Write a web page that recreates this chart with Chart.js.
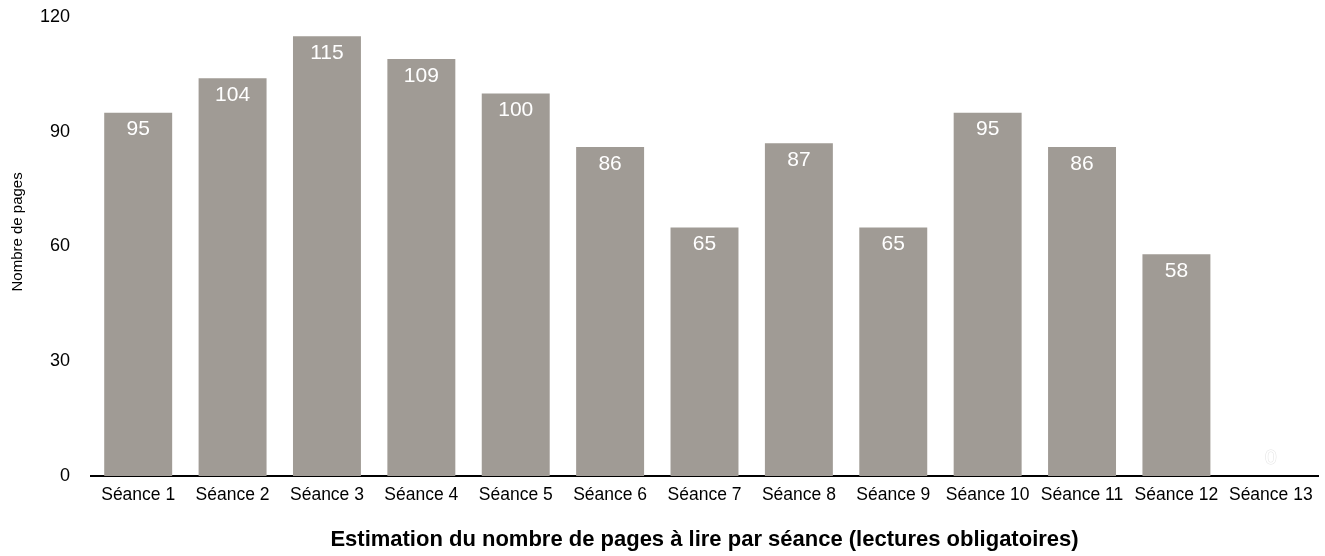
<!DOCTYPE html>
<html>
<head>
<meta charset="utf-8">
<script src="https://cdn.jsdelivr.net/npm/chart.js@4"></script>
<style>
  html, body { margin: 0; padding: 0; background: #fff; }
  #wrap { width: 1325px; height: 556px; }
</style>
</head>
<body>
<div id="wrap"><canvas id="chart"></canvas></div>
<script>
const sessions = ['Séance 1', 'Séance 2', 'Séance 3', 'Séance 4', 'Séance 5', 'Séance 6', 'Séance 7',
    'Séance 8', 'Séance 9', 'Séance 10', 'Séance 11', 'Séance 12', 'Séance 13'];
const pages = [95, 104, 115, 109, 100, 86, 65, 87, 65, 95, 86, 58, 0];
const yTicks = [0, 30, 60, 90, 120];

const FONT = 'Liberation Sans, Arial, Helvetica, sans-serif';
const BAR = '#a09b95';

// white value labels inside the top of each bar
const valueLabels = {
    id: 'valueLabels',
    afterDatasetsDraw(chart) {
        const { ctx } = chart;
        const meta = chart.getDatasetMeta(0);
        ctx.save();
        ctx.font = '21px ' + FONT;
        ctx.textAlign = 'center';
        ctx.textBaseline = 'middle';
        meta.data.forEach((bar, i) => {
            const v = pages[i];
            if (v === 0) {
                ctx.lineWidth = 1;
                ctx.strokeStyle = '#e2e2e2';
                ctx.strokeText(String(v), bar.x, bar.y - 18);
                ctx.fillStyle = '#ffffff';
                ctx.fillText(String(v), bar.x, bar.y - 18);
            } else {
                ctx.fillStyle = '#ffffff';
                ctx.fillText(String(v), bar.x, bar.y + 17);
            }
        });
        ctx.restore();
    },
};

new Chart(document.getElementById('chart'), {
    type: 'bar',
    data: {
        labels: sessions,
        datasets: [{
            data: pages,
            backgroundColor: BAR,
            borderWidth: 0,
            categoryPercentage: 0.8,
            barPercentage: 0.9,
        }],
    },
    options: {
        responsive: true,
        maintainAspectRatio: false,
        animation: false,
        layout: { padding: { top: 17, right: 7, left: 9, bottom: 3 } },
        plugins: {
            legend: { display: false },
            tooltip: { enabled: false },
        },
        scales: {
            y: {
                min: 0,
                max: 120,
                afterBuildTicks: (axis) => { axis.ticks = yTicks.map(v => ({ value: v })); },
                afterFit: (axis) => {
                    axis.width = 82;
                    axis.paddingTop = 0;
                    axis.paddingBottom = 0;
                },
                border: { display: false },
                grid: { display: false, drawTicks: false },
                ticks: {
                    color: '#000',
                    padding: 21,
                    font: { family: FONT, size: 18 },
                },
                title: {
                    display: true,
                    // leading spaces nudge the rotated title a bit upward
                    text: '\u00a0\u00a0\u00a0\u00a0\u00a0\u00a0\u00a0Nombre de pages',
                    color: '#000',
                    font: { family: FONT, size: 15 },
                    padding: { top: 0, bottom: 13 },
                },
            },
            x: {
                afterFit: (axis) => { axis.height = 77; },
                border: { display: true, color: '#000', width: 2 },
                grid: { display: false, drawTicks: false },
                ticks: {
                    color: '#000',
                    padding: 9,
                    maxRotation: 0,
                    autoSkip: false,
                    font: { family: FONT, size: 17.5 },
                },
                title: {
                    display: true,
                    text: 'Estimation du nombre de pages à lire par séance (lectures obligatoires)',
                    color: '#000',
                    font: { family: FONT, size: 22, weight: 'bold' },
                    padding: { top: 20, bottom: 0 },
                },
            },
        },
    },
    plugins: [valueLabels],
});
</script>
</body>
</html>
